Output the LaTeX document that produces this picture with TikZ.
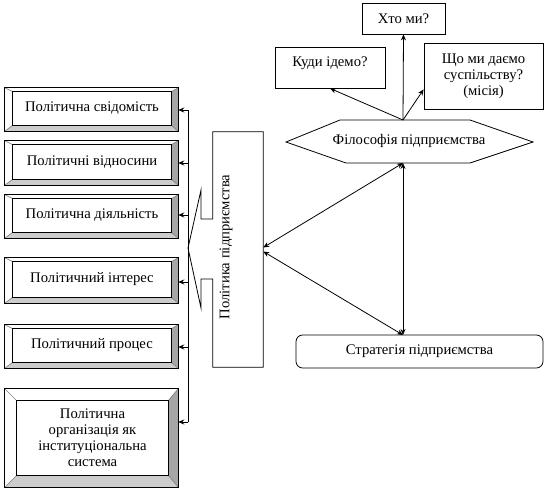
\documentclass[tikz,border=0pt]{standalone}
\usepackage{fontspec}
\setmainfont{Liberation Serif}
\usetikzlibrary{calc,arrows.meta}
\tikzset{
  every picture/.style={x=0.75pt,y=-0.75pt},
  every node/.style={font=\fontsize{11}{12}\selectfont},
  line/.style={line width=0.6pt},
  arr/.style={line width=0.6pt,-{Stealth[length=4.5pt,width=3.8pt]}},
  darr/.style={line width=0.6pt,{Stealth[length=4.5pt,width=3.8pt]}-{Stealth[length=4.5pt,width=3.8pt]}},
  outerbox/.style={rectangle,inner sep=0pt,align=center},
  plainbox/.style={draw,line width=0.6pt,rectangle,inner sep=0pt,align=center},
}
\definecolor{bevright}{RGB}{166,166,166}
\definecolor{bevbottom}{RGB}{204,204,204}
\newcommand\bevelbox[5]{%
  \coordinate (#1-a) at ($(#1.north west)+(#2,#3)$);
  \coordinate (#1-b) at ($(#1.north east)+(-#4,#3)$);
  \coordinate (#1-c) at ($(#1.south east)+(-#4,-#5)$);
  \coordinate (#1-d) at ($(#1.south west)+(#2,-#5)$);
  \fill[white] (#1.north west) -- (#1.north east) -- (#1-b) -- (#1-a) -- cycle;
  \fill[bevright] (#1.north east) -- (#1.south east) -- (#1-c) -- (#1-b) -- cycle;
  \fill[bevbottom] (#1.south west) -- (#1.south east) -- (#1-c) -- (#1-d) -- cycle;
  \draw[gray,line width=0.5pt] (#1.north west) -- (#1-a) (#1.north east) -- (#1-b)
        (#1.south east) -- (#1-c) (#1.south west) -- (#1-d);
  \draw[line] (#1.north west) rectangle (#1.south east);
  \draw[line] (#1-a) rectangle (#1-c);
}
\begin{document}
\begin{tikzpicture}
\useasboundingbox (0,0) rectangle (549,492);
% left bevel boxes
\node[outerbox,minimum width=173*0.75pt,minimum height=43*0.75pt] (b1) at (91.5,109.5) {};
\node[outerbox,minimum width=173*0.75pt,minimum height=44*0.75pt] (b2) at (91.5,163) {};
\node[outerbox,minimum width=173*0.75pt,minimum height=43*0.75pt] (b3) at (91.5,216.5) {};
\node[outerbox,minimum width=173*0.75pt,minimum height=45*0.75pt] (b4) at (91.5,280.5) {};
\node[outerbox,minimum width=173*0.75pt,minimum height=43*0.75pt] (b5) at (91.5,346.5) {};
\node[outerbox,minimum width=173*0.75pt,minimum height=98*0.75pt] (b6) at (91.5,438) {};
\bevelbox{b1}{8}{4}{7}{6}
\bevelbox{b2}{8}{4}{7}{6}
\bevelbox{b3}{8}{4}{7}{6}
\bevelbox{b4}{8}{4}{7}{6}
\bevelbox{b5}{8}{4}{7}{6}
\bevelbox{b6}{12}{12}{10}{12}
\node at ($(b1-a)!0.5!(b1-c)$) {Політична свідомість};
\node at ($(b2-a)!0.5!(b2-c)$) {Політичні відносини};
\node at ($(b3-a)!0.5!(b3-c)$) {Політична діяльність};
\node at ($(b4-a)!0.5!(b4-c)$) {Політичний інтерес};
\node at ($(b5-a)!0.5!(b5-c)$) {Політичний процес};
\node[align=center] at ($(b6-a)!0.5!(b6-c)$) {Політична\\організація як\\інституціональна\\система};
% trunk
\coordinate (j1) at (188,110);
\coordinate (j2) at (188,163);
\coordinate (j3) at (188,215);
\coordinate (j4) at (188,282);
\coordinate (j5) at (188,347);
\coordinate (j6) at (188,422);
\draw[line] (j1) -- (j6);
\foreach \i in {1,...,6} {\draw[arr] (j\i) -- (j\i -| b\i.east);}
% politics box with arrow
\node[rectangle,inner sep=0pt,minimum width=50*0.75pt,minimum height=235*0.75pt] (pol) at (238,249.5) {};
\draw[line] (pol.west |- 0,219) -- (pol.north west) -- (pol.north east) -- (pol.south east)
  -- (pol.south west) -- (pol.west |- 0,279) -- (201,279) -- (201,308) -- (j3 |- 0,248)
  -- (201,190) -- (201,219) -- cycle;
\node[rotate=90] (polt) at (226,247) {Політика підприємства};
% philosophy hexagon
\draw[line] (286,142) -- (340,120) -- (470,120) -- (533,142) -- (470,163) -- (346,163) -- cycle;
\node (phil) at (409,141) {Філософія підприємства};
\coordinate (ptop) at (403,120);
\coordinate (pbot) at (403,163);
% top boxes
\node[plainbox,minimum width=83*0.75pt,minimum height=31*0.75pt] (who) at (403.5,18.5) {Хто ми?};
\node[plainbox,minimum width=110*0.75pt,minimum height=41*0.75pt,
  label={[anchor=north,yshift=-4pt]north:Куди ідемо?}] (where) at (330,67.5) {};
\node[plainbox,minimum width=119*0.75pt,minimum height=66*0.75pt] (mission) at (483.5,76)
  {Що ми даємо\\суспільству?\\(місія)};
\draw[arr] (ptop) -- (who.south);
\draw[arr] (ptop) -- (where.south);
\draw[arr] (ptop) -- ($(mission.south west)+(0,-20)$);
% strategy
\node[plainbox,rounded corners=5pt,minimum width=247*0.75pt,minimum height=33*0.75pt] (strat) at (419.5,351.5) {Стратегія підприємства};
\coordinate (stop) at (403,335);
\draw[darr] (pbot) -- (stop);
\draw[darr] ($(pol.east)+(0,-2)$) -- (pbot);
\draw[darr] ($(pol.east)+(0,2)$) -- (stop);
\end{tikzpicture}
\end{document}
